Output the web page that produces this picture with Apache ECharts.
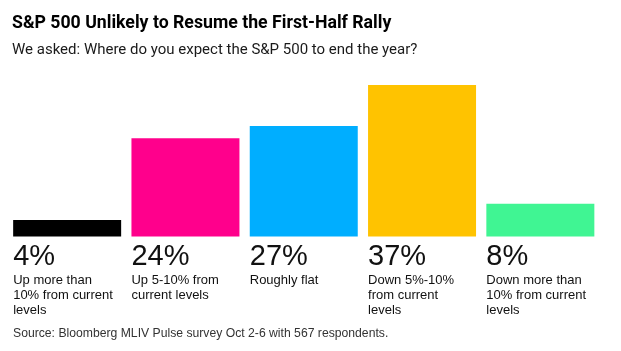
<!DOCTYPE html>
<html>
<head>
<meta charset="utf-8">
<script src="https://cdn.jsdelivr.net/npm/echarts@6/dist/echarts.min.js"></script>
<style>
  html, body { margin: 0; padding: 0; background: #fff; }
  #chart { width: 621px; height: 351px; }
</style>
</head>
<body>
<div id="chart"></div>
<script>
// 调查结果数据
const categories = [
  'Up more than\n10% from current\nlevels',
  'Up 5-10% from\ncurrent levels',
  'Roughly flat',
  'Down 5%-10%\nfrom current\nlevels',
  'Down more than\n10% from current\nlevels'
];
const shares = [4, 24, 27, 37, 8];
const barColors = ['#000000', '#ff008c', '#00aeff', '#ffc300', '#40f593'];

const chart = echarts.init(document.getElementById('chart'));

const option = {
  animation: false,
  title: [
    {
      text: 'S&P 500 Unlikely to Resume the First-Half Rally',
      left: 12,
      top: 15,
      padding: 0,
      textStyle: { fontFamily: 'Roboto', fontSize: 17.7, fontWeight: 'bold', color: '#000' }
    },
    {
      text: 'We asked: Where do you expect the S&P 500 to end the year?',
      left: 12,
      top: 43,
      padding: 0,
      textStyle: { fontFamily: 'Roboto', fontSize: 15, fontWeight: 'normal', color: '#1a1a1a' }
    },
    {
      text: 'Source: Bloomberg MLIV Pulse survey Oct 2-6 with 567 respondents.',
      left: 13,
      top: 328,
      padding: 0,
      textStyle: { fontFamily: 'Liberation Sans', fontSize: 12.2, fontWeight: 'normal', color: '#333' }
    }
  ],
  grid: {
    left: 8,
    width: 591.5,
    top: 85,
    height: 151.5
  },
  xAxis: {
    type: 'category',
    data: categories,
    axisLine: { show: false },
    axisTick: { show: false },
    axisLabel: { show: false }
  },
  yAxis: {
    type: 'value',
    min: 0,
    max: 37,
    show: false,
    splitLine: { show: false }
  },
  series: [
    {
      type: 'bar',
      barWidth: 108,
      data: shares.map((v, i) => ({ value: v, itemStyle: { color: barColors[i] } })),
      label: {
        show: true,
        position: [0, '100%'],
        align: 'left',
        verticalAlign: 'top',
        offset: [0, 5],
        fontFamily: 'Liberation Sans',
        formatter: (p) => {
          const lines = categories[p.dataIndex].split('\n').map(s => '{d|' + s + '}').join('\n');
          return '{v|' + p.value + '%}\n' + lines;
        },
        rich: {
          v: { fontFamily: 'Liberation Sans', fontSize: 29, lineHeight: 31, color: '#111' },
          d: { fontFamily: 'Liberation Sans', fontSize: 13, lineHeight: 15, color: '#111' }
        }
      }
    }
  ]
};

chart.setOption(option);
</script>
</body>
</html>
